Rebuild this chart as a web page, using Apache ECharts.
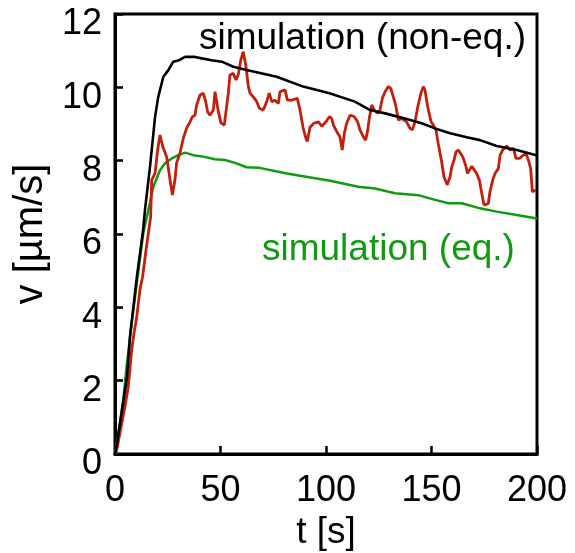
<!DOCTYPE html>
<html>
<head>
<meta charset="utf-8">
<script src="https://cdn.jsdelivr.net/npm/echarts@6/dist/echarts.min.js"></script>
<style>
html,body{margin:0;padding:0;background:#fff;}
#chart{width:575px;height:553px;}
</style>
</head>
<body>
<div id="chart"></div>
<script>
// ---- data ----
const xTicks = [0, 50, 100, 150, 200];
const yTicks = [0, 2, 4, 6, 8, 10, 12];

const tNonEq = [0, 1, 2.4, 5.7, 7.1, 10.3, 13.3, 14.2, 16.6, 19, 20.5, 22.9, 25.3, 27.6, 30, 33.2, 37.9, 41.1, 45.8, 50.6, 56.1, 62.4, 76.6, 89.2, 101.6, 113.7, 120.9, 128, 137.4, 145.3, 151.7, 158.8, 166.7, 173, 180.9, 190.4, 200];
const vNonEq = [0, 0.3, 0.85, 2.1, 3.2, 4.8, 6.1, 6.65, 7.84, 9.2, 9.74, 10.29, 10.47, 10.70, 10.73, 10.83, 10.83, 10.79, 10.74, 10.70, 10.56, 10.47, 10.29, 10.02, 9.84, 9.61, 9.38, 9.29, 9.15, 9.02, 8.88, 8.75, 8.64, 8.56, 8.40, 8.29, 8.14];

const tEq = [0, 0.5, 1.6, 3.9, 5.5, 7.9, 10.3, 13.4, 15.8, 18.2, 21.3, 23.7, 26.9, 30, 33.2, 37.1, 41.8, 47.4, 52.1, 56.9, 62.4, 67.9, 81.4, 101.9, 115.3, 123.2, 132.7, 143.7, 151.7, 158, 164.3, 173, 180.9, 190.4, 200];
const vEq = [0, 0.2, 0.57, 1.47, 2.38, 3.56, 4.65, 6.02, 6.65, 7.29, 7.74, 7.93, 8.06, 8.15, 8.22, 8.15, 8.11, 8.04, 8.02, 7.94, 7.82, 7.81, 7.65, 7.45, 7.29, 7.24, 7.11, 7.06, 6.93, 6.84, 6.84, 6.70, 6.61, 6.52, 6.42];

const tExp = [0.5, 0.8, 4.7, 6.3, 7.9, 9.0, 10.3, 11.8, 13.1, 14.7, 15.8, 16.9, 17.4, 19.0, 20.2, 21.3, 22.7, 24.5, 26.1, 27.2, 28.4, 29.2, 30.8, 32.4, 34.0, 35.5, 36.6, 37.9, 38.7, 40.3, 41.8, 43.0, 43.9, 45.0, 46.6, 47.4, 48.2, 49.0, 50.2, 51.8, 52.6, 53.7, 54.5, 56.1, 57.3, 58.4, 59.6, 60.8, 62.1, 63.2, 64.0, 65.5, 67.2, 68.4, 70.3, 71.9, 73.1, 74.3, 75.8, 77.4, 78.2, 80.6, 81.7, 83.7, 86.4, 87.7, 88.5, 89.2, 90.5, 91.1, 92.4, 94.3, 96.4, 98.0, 100.0, 101.6, 102.7, 103.5, 105.1, 106.6, 107.7, 108.7, 109.8, 111.4, 113.4, 115.0, 116.1, 117.7, 118.8, 119.8, 120.5, 121.7, 122.9, 124.5, 125.6, 126.7, 128.0, 129.5, 130.7, 131.9, 133.0, 134.3, 135.9, 138.2, 139.8, 140.9, 142.2, 143.5, 145.0, 146.1, 146.9, 148.2, 149.8, 150.9, 152.1, 153.2, 154.8, 155.9, 157.5, 158.8, 159.6, 160.7, 161.6, 162.7, 164.3, 165.1, 166.4, 167.0, 167.9, 169.1, 169.8, 171.4, 172.7, 173.8, 174.9, 176.9, 177.7, 179.0, 180.1, 181.7, 182.5, 183.7, 185.6, 187.2, 188.8, 190.0, 191.6, 193.5, 194.8, 195.9, 197.0, 197.8, 199.5];
const vExp = [0, 0.11, 1.29, 1.84, 2.84, 3.29, 3.74, 4.47, 4.84, 5.56, 6.02, 6.47, 7.47, 7.66, 8.29, 8.70, 8.37, 8.10, 7.47, 7.06, 7.47, 7.94, 8.21, 8.62, 8.89, 9.05, 9.19, 9.24, 9.52, 9.79, 9.84, 9.61, 9.33, 9.24, 9.38, 9.88, 9.84, 9.33, 9.03, 8.97, 8.97, 9.84, 10.34, 10.38, 10.20, 10.34, 10.74, 10.97, 10.56, 10.02, 9.84, 9.74, 9.61, 9.43, 9.38, 9.61, 9.84, 9.61, 9.65, 9.56, 9.88, 9.93, 9.65, 9.65, 9.70, 9.38, 9.11, 8.88, 8.61, 8.52, 8.91, 9.02, 9.06, 8.94, 9.06, 9.20, 9.15, 8.97, 8.79, 8.65, 8.29, 8.75, 9.02, 9.24, 9.20, 9.06, 8.84, 8.65, 8.56, 8.84, 9.15, 9.52, 9.38, 9.29, 9.38, 9.70, 9.88, 10.02, 9.97, 9.74, 9.52, 9.11, 9.15, 9.06, 8.88, 8.84, 9.06, 9.47, 9.84, 10.02, 9.93, 9.47, 9.06, 8.97, 8.84, 8.47, 7.97, 7.56, 7.34, 7.56, 7.83, 8.02, 8.24, 8.29, 8.15, 8.06, 7.83, 7.65, 7.74, 7.85, 7.79, 7.65, 7.47, 7.11, 6.79, 6.83, 7.15, 7.47, 7.65, 7.79, 8.15, 8.29, 8.40, 8.29, 8.34, 8.06, 8.06, 8.15, 8.19, 8.02, 7.79, 7.15, 7.20];

const labelNonEq = 'simulation (non-eq.)';
const labelEq = 'simulation (eq.)';
const xName = 't [s]';
const yName = 'v [µm/s]';

// ---- chart ----
const zip = (a, b) => a.map((t, i) => [t, b[i]]);
const FONT = "'Liberation Sans', Arial, Helvetica, sans-serif";
const chart = echarts.init(document.getElementById('chart'), null, {renderer: 'canvas'});

const axisCommon = {
  type: 'value',
  axisLine: {show: true, onZero: false, lineStyle: {color: '#000', width: 3}},
  axisTick: {show: true, inside: true, length: 8, lineStyle: {color: '#000', width: 2.5}},
  splitLine: {show: false}
};

chart.setOption({
  animation: false,
  backgroundColor: '#fff',
  grid: {left: 115, right: 38, top: 14, bottom: 99, containLabel: false, outerBoundsMode: 'none',
         show: true, borderColor: '#000', borderWidth: 3, backgroundColor: 'transparent'},
  xAxis: Object.assign({}, axisCommon, {
    min: xTicks[0], max: xTicks[xTicks.length - 1], interval: xTicks[1] - xTicks[0],
    name: xName, nameLocation: 'middle', nameGap: 54,
    nameTextStyle: {fontFamily: FONT, fontSize: 37, color: '#000'},
    axisLabel: {margin: 19, fontFamily: FONT, fontSize: 36, color: '#000'}
  }),
  yAxis: Object.assign({}, axisCommon, {
    min: yTicks[0], max: yTicks[yTicks.length - 1], interval: yTicks[1] - yTicks[0],
    name: yName, nameLocation: 'middle', nameGap: 62, nameRotate: 90,
    nameTextStyle: {fontFamily: FONT, fontSize: 40, color: '#000'},
    axisLabel: {margin: 13, color: '#000',
      formatter: v => '{a|' + v + '}',
      rich: {a: {fontFamily: FONT, fontSize: 36, color: '#000', padding: [21, 0, 0, 0]}}}
  }),
  series: [
    {type: 'line', name: labelEq, data: zip(tEq, vEq), showSymbol: false, lineStyle: {color: '#109a10', width: 2.5}, z: 2},
    {type: 'line', name: 'experiment', data: zip(tExp, vExp), showSymbol: false, lineStyle: {color: '#c2200c', width: 2.8}, z: 3},
    {type: 'line', name: labelNonEq, data: zip(tNonEq, vNonEq), showSymbol: false, lineStyle: {color: '#000', width: 2.6}, z: 4}
  ],
  graphic: [
    {type: 'text', x: 199, y: 38.5, style: {text: labelNonEq, font: "37px " + FONT, fill: '#000', align: 'left', verticalAlign: 'middle'}, z: 10},
    {type: 'text', x: 262, y: 249.5, style: {text: labelEq, font: "37px " + FONT, fill: '#109a10', align: 'left', verticalAlign: 'middle'}, z: 10}
  ]
});
</script>
</body>
</html>
